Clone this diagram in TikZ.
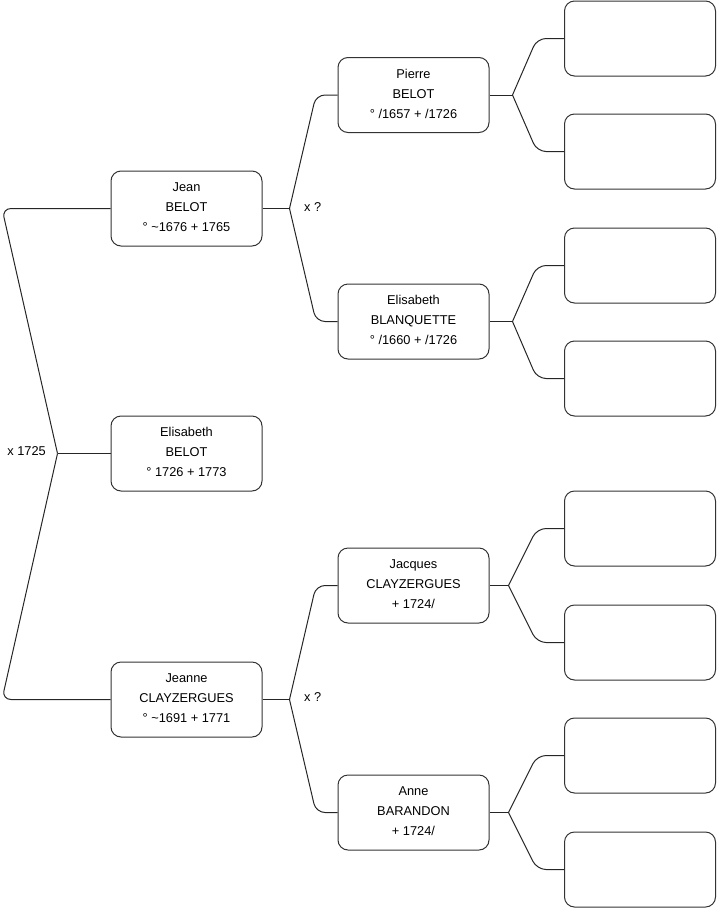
\documentclass[tikz,border=0pt]{standalone}
\usepackage{fontspec}
\setmainfont{Liberation Sans}
\begin{document}
\begin{tikzpicture}[x=1pt,y=-1pt,
  person/.style={draw=black!80,line width=1pt,rounded corners=10pt,minimum width=151pt,minimum height=75pt,inner sep=0pt,fill=white,align=center,font=\fontsize{12.8}{20}\selectfont},
  link/.style={draw=black!85,line width=1pt},
  curve/.style={link,rounded corners=9pt},
  lbl/.style={font=\fontsize{12.8}{14}\selectfont,inner sep=0pt}]
\useasboundingbox (0,0) rectangle (716,908);
% level 1
\node[person] (jean) at (186.5,208.5) {Jean\\BELOT\\° \textasciitilde1676 + 1765\vphantom{g}};
\node[person] (elis) at (186.5,453.5) {Elisabeth\\BELOT\\° 1726 + 1773\vphantom{g}};
\node[person] (jeanne) at (186.5,699.5) {Jeanne\\CLAYZERGUES\\° \textasciitilde1691 + 1771\vphantom{g}};
% level 2
\node[person] (pierre) at (413.5,95) {Pierre\\BELOT\\° /1657 + /1726\vphantom{g}};
\node[person] (blanq) at (413.5,321.5) {Elisabeth\\BLANQUETTE\\° /1660 + /1726\vphantom{g}};
\node[person] (jacques) at (413.5,585.5) {Jacques\\CLAYZERGUES\\+ 1724/\vphantom{g}};
\node[person] (anne) at (413.5,812.5) {Anne\\BARANDON\\+ 1724/\vphantom{g}};
% level 3
\node[person] (p1) at (640,38.5) {};
\node[person] (p2) at (640,151.5) {};
\node[person] (b1) at (640,265.5) {};
\node[person] (b2) at (640,378.5) {};
\node[person] (j1) at (640,528.5) {};
\node[person] (j2) at (640,642.5) {};
\node[person] (a1) at (640,755.5) {};
\node[person] (a2) at (640,869.5) {};
% root connector
\draw[link] (elis.west) -- ++(-53,0) coordinate (v0);
\draw[curve] (v0) -- (2,208.5) -- (jean.west);
\draw[curve] (v0) -- (2,699.5) -- (jeanne.west);
\node[lbl,anchor=east] (x0) at (46,451) {x 1725};
% Jean connector
\draw[link] (jean.east) -- ++(27,0) coordinate (v1);
\draw[curve] (v1) -- (316,95) -- (pierre.west);
\draw[curve] (v1) -- (316,321.5) -- (blanq.west);
\node[lbl,anchor=west] (x1) at (304,207) {x ?};
% Jeanne connector
\draw[link] (jeanne.east) -- ++(27,0) coordinate (v2);
\draw[curve] (v2) -- (316,585.5) -- (jacques.west);
\draw[curve] (v2) -- (316,812.5) -- (anne.west);
\node[lbl,anchor=west] (x2) at (304,697) {x ?};
% level 2 connectors
\draw[link] (pierre.east) -- ++(23,0) coordinate (v3);
\draw[curve] (v3) -- (537,38.5) -- (p1.west);
\draw[curve] (v3) -- (537,151.5) -- (p2.west);
\draw[link] (blanq.east) -- ++(23,0) coordinate (v4);
\draw[curve] (v4) -- (537,265.5) -- (b1.west);
\draw[curve] (v4) -- (537,378.5) -- (b2.west);
\draw[link] (jacques.east) -- ++(19,0) coordinate (v5);
\draw[curve] (v5) -- (537,528.5) -- (j1.west);
\draw[curve] (v5) -- (537,642.5) -- (j2.west);
\draw[link] (anne.east) -- ++(19,0) coordinate (v6);
\draw[curve] (v6) -- (537,755.5) -- (a1.west);
\draw[curve] (v6) -- (537,869.5) -- (a2.west);
\end{tikzpicture}
\end{document}
